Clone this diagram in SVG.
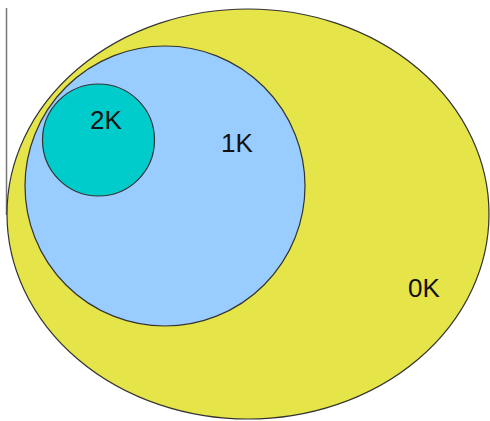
<svg xmlns="http://www.w3.org/2000/svg" width="490" height="421" viewBox="0 0 490 421">
<style>
.set{stroke:#333;stroke-width:1.2}
.lbl{font-family:"Liberation Sans",Arial,sans-serif;font-size:26px;fill:#111;text-anchor:middle}
</style>
<rect width="490" height="421" fill="#fff"/>
<g id="connectors">
<line x1="6.5" y1="8" x2="6.5" y2="215" stroke="#777" stroke-width="1.5"/>
</g>
<g id="k0">
<ellipse class="set" cx="248" cy="214" rx="241" ry="205" fill="#e5e54a"/>
<text class="lbl" x="424" y="297">0K</text>
</g>
<g id="k1">
<circle class="set" cx="165" cy="186" r="140" fill="#99ccff"/>
<text class="lbl" x="237" y="152">1K</text>
</g>
<g id="k2">
<circle class="set" cx="98.5" cy="140" r="56" fill="#00cccc"/>
<text class="lbl" x="106" y="129">2K</text>
</g>
</svg>
